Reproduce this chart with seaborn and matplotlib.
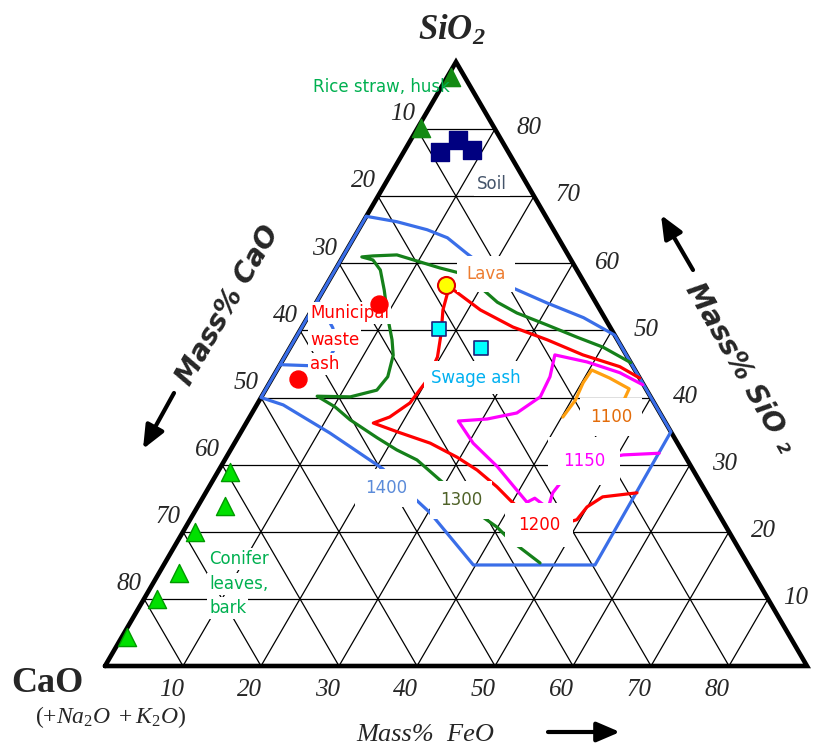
import numpy as np
import pandas as pd
import seaborn as sns
import matplotlib.pyplot as plt
from matplotlib.patches import FancyArrowPatch

sns.set_style("white")
plt.rcParams['font.family'] = ['DejaVu Sans']
plt.rcParams['mathtext.fontset'] = 'custom'
plt.rcParams['mathtext.rm'] = 'Liberation Serif'
plt.rcParams['mathtext.it'] = 'Liberation Serif:italic'
plt.rcParams['mathtext.bf'] = 'Liberation Serif:bold:italic'

# grid / tick values (chart units, side of triangle = 90)
ticks = [10, 20, 30, 40, 50, 60, 70, 80]

# isotherms, read as (FeO, SiO2) in chart units
iso1400_feo = [0, 4.3, 8.8, 12.0, 15.6, 23.7, 29.6, 35.4, 40.7, 55.1, 55.3, 39.7, 30.3, 20.9, 11.5, 3.4, 0, 0]
iso1400_sio2 = [67, 66.2, 65.0, 63.8, 61.5, 56.5, 54.1, 51.9, 49.3, 34.9, 15.05, 15.05, 22.8, 29.4, 34.7, 38.9, 40, 67]
iso1400b_feo = [0.3, 4.0, 5.8, 5.8, 4.95, 0]
iso1400b_sio2 = [54.2, 50.4, 47.8, 45.6, 44.7, 44.9]

iso1300_feo = [44.8, 40.1, 36.0, 31.3, 26.5, 23.2, 20.1, 16.0, 13.3, 10.3, 6.8, 3.8, 2.45, 4.1, 5.8, 7.8,
               10.5, 12.5, 13.8, 14.7, 14.3, 11.4, 7.1, 10.2, 13.05, 17.9, 21.3, 24.65, 29.1, 32.9, 36.3,
               39.9, 42.5, 48.1]
iso1300_sio2 = [45.2, 47.5, 49.0, 50.8, 52.6, 54.2, 56.3, 58.6, 59.3, 60.2, 61.25, 61.1, 60.95, 60.5, 59.0,
                56.0, 51.6, 48.6, 46.3, 43.1, 41.1, 40.1, 40.2, 38.6, 36.7, 34.0, 32.2, 30.7, 27.7, 25.2,
                22.8, 20.7, 18.8, 15.35]

iso1200_feo = [47.1, 43.7, 38.1, 32.4, 27.05, 21.6, 16.9, 15.6, 16.2, 16.8, 18.3, 19.6, 20.0, 19.5, 17.95,
               16.3, 20.0, 25.1, 29.6, 33.1, 36.9, 39.6, 42.1, 46.75, 49.6, 49.95, 51.2, 55.3]
iso1200_sio2 = [42.9, 44.6, 46.35, 48.6, 50.5, 53.05, 55.9, 56.5, 55.3, 53.05, 49.6, 46.05, 42.6, 39.2,
                37.1, 36.2, 34.9, 33.2, 31.1, 29.2, 26.7, 24.7, 22.95, 20.6, 21.8, 23.7, 25.2, 25.8]

iso1150_feo = [48.0, 44.15, 39.15, 34.5, 35.5, 35.75, 33.95, 30.6, 27.05, 30.6, 35.45, 39.7, 41.9, 42.6,
               45.05, 44.5, 44.9, 46.3, 50.7, 55.2]
iso1150_sio2 = [41.9, 43.7, 45.3, 46.35, 43.1, 40.1, 37.7, 36.8, 36.5, 33.2, 29.7, 26.2, 24.4, 25.0,
                23.5, 25.8, 28.2, 30.4, 31.45, 31.7]

iso1100_feo = [40.15, 40.5, 40.2, 40.35, 43.25, 46.55, 46.75]
iso1100_sio2 = [37.1, 39.6, 42.2, 44.1, 42.9, 41.3, 39.3]

# samples
rice_feo, rice_sio2 = [0.5, 0.4], [87.8, 80.2]
soil_feo, soil_sio2 = [4.65, 6.06, 8.6], [76.6, 78.4, 76.9]
msw_feo, msw_sio2 = [8.16, 3.36], [53.9, 42.76]
lava_feo, lava_sio2 = [15.3], [56.77]
sewage_feo, sewage_sio2 = [17.7, 24.5], [50.2, 47.4]
conifer_feo = [1.58, 3.46, 1.56, 2.56, 1.68, 0.66]
conifer_sio2 = [28.9, 23.84, 19.97, 13.86, 9.98, 4.32]


def tern(feo, sio2):
    feo = np.asarray(feo, float)
    sio2 = np.asarray(sio2, float)
    return feo + sio2 / 2, sio2 * np.sqrt(3) / 2


W, H = 813, 749
fig = plt.figure(figsize=(W / 100, H / 100), dpi=100)
ax = fig.add_axes([0, 0, 1, 1])
ax.set_xlim(-105 / 7.8, (W - 105) / 7.8)
ax.set_ylim((666 - H) / 7.75, 666 / 7.75)
ax.axis('off')


def P(x, y):
    return x / W, 1 - y / H


# grid
for k in ticks:
    for a, b in [((0, k), (90 - k, k)), ((k, 0), (k, 90 - k)), ((90 - k, 0), (0, 90 - k))]:
        x, y = tern([a[0], b[0]], [a[1], b[1]])
        ax.plot(x, y, color='black', lw=0.9, zorder=1)

# frame
x, y = tern([0, 90, 0, 0], [0, 0, 90, 0])
ax.plot(x, y, color='black', lw=3.3, zorder=2, solid_joinstyle='miter')

# isotherms
curves = [
    (iso1400_feo, iso1400_sio2, '#3a6ee8'),
    (iso1400b_feo, iso1400b_sio2, '#3a6ee8'),
    (iso1300_feo, iso1300_sio2, '#15801a'),
    (iso1200_feo, iso1200_sio2, '#ff0000'),
    (iso1150_feo, iso1150_sio2, '#ff00ff'),
    (iso1100_feo, iso1100_sio2, '#ffa010'),
]
for fe, si, col in curves:
    x, y = tern(fe, si)
    sns.lineplot(x=x, y=y, sort=False, estimator=None, color=col, lw=2.3, ax=ax, zorder=3)

# samples
def pts(fe, si, **kw):
    x, y = tern(fe, si)
    sns.scatterplot(x=x, y=y, ax=ax, zorder=6, legend=False, **kw)

pts(rice_feo, rice_sio2, marker='^', s=170, color='#138a13', edgecolor='#138a13')
pts(soil_feo, soil_sio2, marker='s', s=150, color='#000080', edgecolor='#000080')
pts(msw_feo, msw_sio2, marker='o', s=150, color='#ff0000', edgecolor='#ff0000')
pts(lava_feo, lava_sio2, marker='o', s=150, color='#ffff00', edgecolor='#e00000', linewidth=1.5)
pts(sewage_feo, sewage_sio2, marker='s', s=110, color='#00ffff', edgecolor='#1a237e', linewidth=1.2)
pts(conifer_feo, conifer_sio2, marker='^', s=170, color='#00e000', edgecolor='#009a00', linewidth=1)

# tick labels
tk = dict(fontfamily='Liberation Serif', style='italic', fontsize=18, ha='center', va='center')
for v in ticks:
    x, y = tern(v, 0)
    ax.text(x - 1.5, y - 3.1, str(v), **tk)
    x, y = tern(0, 90 - v)
    ax.text(x - 1.9, y + 1.9, str(v), **tk)
    x, y = tern(90 - v, v)
    ax.text(min(x + 4.4, 88.6), y + 0.1, str(v), **tk)

# labels on the diagram (axes children, so markers can sit on top)
def lab(x, y, s, c, ha='center', pad=0.5, box=True, size=12, z=5):
    kw = dict(color=c, fontsize=size, ha=ha, va='center', zorder=z, transform=fig.transFigure)
    if box:
        kw['bbox'] = dict(boxstyle=f'square,pad={pad}', fc='white', ec='none')
    ax.text(*P(x, y), s, **kw)

lab(381, 87, 'Rice straw, husk', '#00b050', box=False, z=7)
lab(492, 184, 'Soil', '#44546a', pad=0.2)
lab(486, 274, 'Lava', '#ed7d31', pad=0.55)
lab(310, 313, 'Municipal', '#ff0000', ha='left', pad=0.1)
lab(310, 340, 'waste', '#ff0000', ha='left', pad=0.1)
lab(310, 364, 'ash', '#ff0000', ha='left', pad=0.1)
lab(431, 378, 'Swage ash', '#00b0f0', ha='left', pad=0.45)
lab(209, 559, 'Conifer', '#00b050', ha='left', pad=0.1)
lab(209, 584, 'leaves,', '#00b050', ha='left', pad=0.1)
lab(209, 608, 'bark', '#00b050', ha='left', pad=0.1)
lab(386, 488, '1400', '#5b8bd9', pad=0.6)
lab(461, 500, '1300', '#4f6228', pad=0.6)
lab(539, 525, '1200', '#ff0000', pad=0.8)
lab(584, 461, '1150', '#ff00ff', pad=0.9)
lab(611, 417, '1100', '#e36c0a', pad=0.6)

# component names and axis titles
fig.text(*P(452, 30), r'$\mathbf{SiO_2}$', fontsize=25, ha='center', va='center')
fig.text(*P(47, 684), 'CaO', fontfamily='Liberation Serif', fontweight='bold', fontsize=26,
         ha='center', va='center')
fig.text(*P(110, 717), r'$\mathit{(+Na_2O\ +K_2O)}$', fontsize=17, ha='center', va='center')
fig.text(*P(425, 735), 'Mass%  FeO', fontfamily='Liberation Serif', style='italic', fontsize=19,
         ha='center', va='center')
fig.text(*P(228, 305), 'Mass% CaO', fontweight='bold', style='italic', fontsize=20,
         rotation=60, ha='center', va='center', rotation_mode='anchor')
fig.text(*P(740, 368), 'Mass% SiO ₂', fontweight='bold', style='italic', fontsize=20,
         rotation=-60, ha='center', va='center', rotation_mode='anchor')

# arrows
ap = dict(arrowstyle='-|>,head_length=0.7,head_width=0.3', lw=3, color='black', shrinkA=0, shrinkB=0)
for (x1, y1), (x2, y2) in [((548, 732), (620, 732)), ((174, 393), (143, 449)), ((693, 270), (661, 215))]:
    fig.add_artist(FancyArrowPatch(P(x1, y1), P(x2, y2), transform=fig.transFigure,
                                   mutation_scale=20, **ap))

fig.savefig('out.png', dpi=100)
